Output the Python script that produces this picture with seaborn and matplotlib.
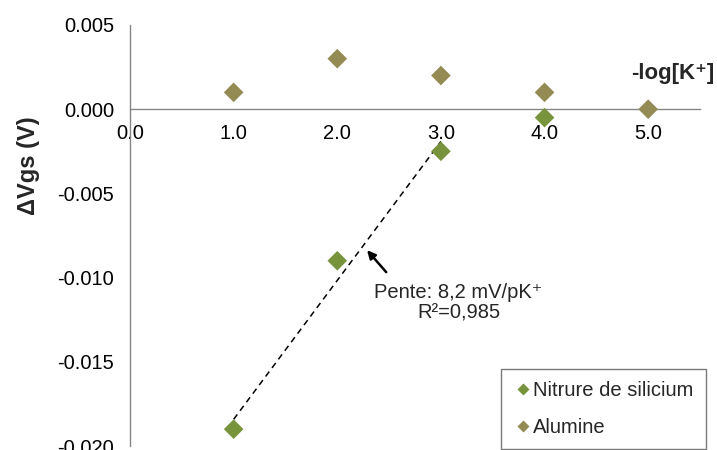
import numpy as np
import pandas as pd
import matplotlib
matplotlib.use("Agg")
import matplotlib.pyplot as plt
from matplotlib.ticker import MultipleLocator, FormatStrFormatter
import seaborn as sns

# data
series_names = ["Nitrure de silicium", "Alumine"]
x_nitrure = [1.0, 2.0, 3.0, 4.0]
y_nitrure = [-0.019, -0.009, -0.0025, -0.0005]
x_alumine = [1.0, 2.0, 3.0, 4.0, 5.0]
y_alumine = [0.001, 0.003, 0.002, 0.001, 0.0]
fit_x = [1.0, 2.0, 3.0]          # points used for the trend line
colors = ["#77933C", "#948A54"]
annot_text = "Pente: 8,2 mV/pK\u207a\nR\u00b2=0,985"
xlabel = "-log[K\u207a]"
ylabel = "\u0394Vgs (V)"

df = pd.DataFrame({
    "x": x_nitrure + x_alumine,
    "y": y_nitrure + y_alumine,
    "serie": [series_names[0]] * len(x_nitrure) + [series_names[1]] * len(x_alumine),
})

sns.set_style("white")
plt.rcParams["font.family"] = ["Liberation Sans", "DejaVu Sans"]

fig = plt.figure(figsize=(7.17, 4.5), dpi=100)
ax = fig.add_axes([130 / 717, 1 - 446 / 450, 570 / 717, 421 / 450])

sns.scatterplot(data=df, x="x", y="y", hue="serie", palette=colors,
                marker="D", s=100, edgecolor="none", ax=ax, zorder=3)

# trend line (linear fit of first three nitrure points)
fx = np.array(fit_x)
fy = np.array(y_nitrure[:len(fit_x)])
slope, intercept = np.polyfit(fx, fy, 1)
ax.plot(fx, slope * fx + intercept, color="black", lw=1.1,
        linestyle=(0, (4, 3)), zorder=2)

ax.set_xlim(0, 5.5)
ax.set_ylim(-0.020, 0.005)

gray = "#868686"
for s in ["top", "right"]:
    ax.spines[s].set_visible(False)
ax.spines["left"].set_position(("data", 0))
ax.spines["bottom"].set_position(("data", 0))
ax.spines["left"].set_color(gray)
ax.spines["bottom"].set_color(gray)
ax.spines["left"].set_linewidth(1.0)
ax.spines["bottom"].set_linewidth(1.0)

ax.xaxis.set_major_locator(MultipleLocator(1.0))
ax.xaxis.set_major_formatter(FormatStrFormatter("%.1f"))
ax.yaxis.set_major_locator(MultipleLocator(0.005))
ax.yaxis.set_minor_locator(MultipleLocator(0.001))
ax.yaxis.set_major_formatter(FormatStrFormatter("%.3f"))

ax.tick_params(axis="both", which="major", direction="inout", length=9,
               width=1, color=gray, labelsize=14.5, labelcolor="#000000")
ax.tick_params(axis="y", which="minor", direction="in", length=4,
               width=1, color=gray)
ax.tick_params(axis="x", which="major", pad=6)
ax.tick_params(axis="y", which="major", pad=7)
ax.set_xlabel("")
ax.set_ylabel("")

# axis titles
ax.text(5.236, 0.00214, xlabel, ha="center", va="center", fontsize=16,
        fontweight="bold")
fig.text(28 / 717, 1 - 166 / 450, ylabel, rotation=90, ha="center",
         va="center", fontsize=17, fontweight="bold")

# annotation
ax.annotate("", xy=(2.27, -0.00825), xytext=(2.49, -0.0098),
            arrowprops=dict(arrowstyle="-|>", color="black", lw=1.8,
                            mutation_scale=12))
ax.text(3.17, -0.01149, annot_text, ha="center", va="center", fontsize=14.5,
        linespacing=1.1)

# legend
handles, labels = ax.get_legend_handles_labels()
leg = ax.legend(handles, labels, loc="lower right",
                bbox_to_anchor=(1.01, -0.008), fontsize=14.5, frameon=True,
                fancybox=False, edgecolor="#595959", handletextpad=0.0,
                borderpad=0.6, labelspacing=0.9, markerscale=0.6,
                handlelength=1.0, borderaxespad=0.0)
leg.get_frame().set_linewidth(1.0)

fig.savefig("out.png", dpi=100)
